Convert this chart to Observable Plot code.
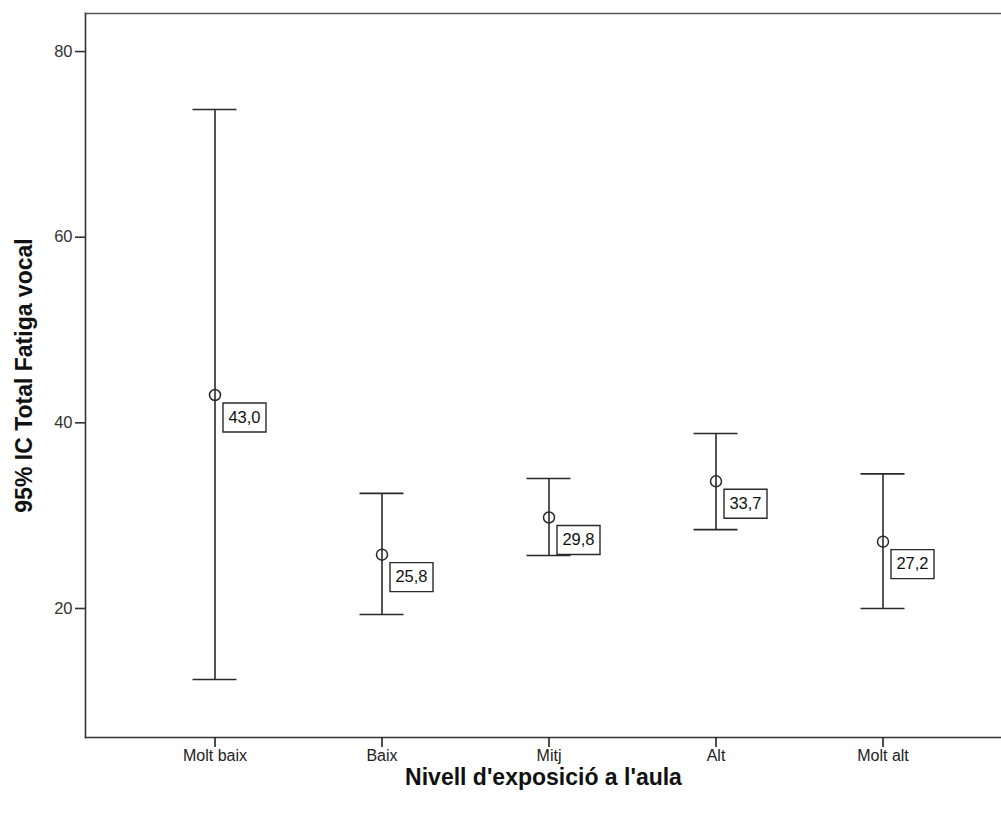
<!DOCTYPE html>
<html>
<head>
<meta charset="utf-8">
<script src="https://cdn.jsdelivr.net/npm/d3@7"></script>
<script src="https://cdn.jsdelivr.net/npm/@observablehq/plot@0.6"></script>
<style>
  html, body { margin: 0; padding: 0; background: #fff; }
  #chart { width: 1001px; height: 815px; overflow: hidden; }
  svg { font-family: "Liberation Sans", Arial, sans-serif; }
</style>
</head>
<body>
<div id="chart"></div>
<script>
const categories = ["Molt baix", "Baix", "Mitj", "Alt", "Molt alt"];
const means = [43.0, 25.8, 29.8, 33.7, 27.2];
const lower = [12.35, 19.35, 25.7, 28.5, 20.0];
const upper = [73.75, 32.4, 34.0, 38.85, 34.5];
const meanLabels = ["43,0", "25,8", "29,8", "33,7", "27,2"];
const yTicks = [20, 40, 60, 80];
const yTitle = "95% IC Total Fatiga vocal";
const xTitle = "Nivell d'exposició a l'aula";

const data = categories.map((c, i) => ({
  cat: c, mean: means[i], lo: lower[i], hi: upper[i], label: meanLabels[i]
}));

const boxSymbol = {
  draw(context) {
    // label box to the lower right of the mean marker
    context.rect(8, 8, 43, 29);
  }
};

const ink = "#2a2a2a";

const chart = Plot.plot({
  width: 1001,
  height: 815,
  marginLeft: 85,
  marginRight: 0,
  marginTop: 13,
  marginBottom: 78,
  style: { fontFamily: "'Liberation Sans', Arial, sans-serif", background: "#fff" },
  x: { type: "band", domain: categories, range: [130.5, 965.5], padding: 0 },
  y: { domain: [6.1, 84.1] },
  marks: [
    Plot.frame({ anchor: "top", stroke: "#555", strokeWidth: 1.6 }),
    Plot.frame({ anchor: "left", stroke: "#333", strokeWidth: 1.6 }),
    Plot.frame({ anchor: "bottom", stroke: "#333", strokeWidth: 1.6 }),
    Plot.axisY({ ticks: yTicks, tickSize: 10, tickPadding: 3, fontSize: 16.5, color: "#333", label: null, strokeWidth: 1.6 }),
    Plot.axisX({ tickSize: 10, tickPadding: 2, fontSize: 16, color: "#222", label: null, strokeWidth: 1.6 }),
    Plot.ruleX(data, { x: "cat", y1: "lo", y2: "hi", stroke: ink, strokeWidth: 1.6 }),
    Plot.tickY(data, { x: "cat", y: "hi", stroke: ink, strokeWidth: 1.6, insetLeft: 61.5, insetRight: 61.5 }),
    Plot.tickY(data, { x: "cat", y: "lo", stroke: ink, strokeWidth: 1.6, insetLeft: 61.5, insetRight: 61.5 }),
    Plot.dot(data, { x: "cat", y: "mean", r: 5.5, stroke: ink, strokeWidth: 1.5, fill: "none" }),
    Plot.dot(data, { x: "cat", y: "mean", symbol: boxSymbol, r: 5, stroke: ink, strokeWidth: 1.4, fill: "white" }),
    Plot.text(data, { x: "cat", y: "mean", text: "label", dx: 29.5, dy: 22.5, fontSize: 16.5, fill: "#111" }),
    Plot.text([yTitle], { frameAnchor: "left", dx: -61, rotate: -90, textAnchor: "middle", lineAnchor: "middle", fontSize: 23, fontWeight: "bold", fill: "#111" }),
    Plot.text([xTitle], { frameAnchor: "bottom", dy: 40, textAnchor: "middle", lineAnchor: "middle", fontSize: 23, fontWeight: "bold", fill: "#111" })
  ]
});

document.getElementById("chart").appendChild(chart);
</script>
</body>
</html>
